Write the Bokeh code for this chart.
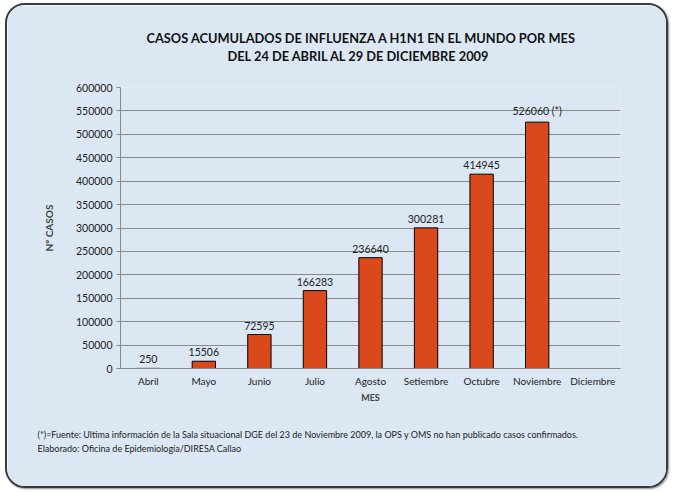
from bokeh.plotting import figure
from bokeh.models import (ColumnDataSource, Range1d, LabelSet, Title,
                          SingleIntervalTicker, NumeralTickFormatter)
from bokeh.core.properties import value
from bokeh.embed import file_html
from bokeh.resources import INLINE

# ---- data ----
months = ["Abril", "Mayo", "Junio", "Julio", "Agosto", "Setiembre", "Octubre", "Noviembre", "Diciembre"]
bar_months = ["Abril", "Mayo", "Junio", "Julio", "Agosto", "Setiembre", "Octubre", "Noviembre"]
cases = [250, 15506, 72595, 166283, 236640, 300281, 414945, 526060]
label_suffix = ["", "", "", "", "", "", "", " (*)"]

title_line1 = "CASOS ACUMULADOS DE INFLUENZA A H1N1 EN EL MUNDO  POR MES"
title_line2 = "DEL 24 DE ABRIL AL 29 DE DICIEMBRE 2009"
footnotes = ["(*)=Fuente: Ultima información de la Sala situacional DGE del 23 de Noviembre 2009, la OPS y OMS no han publicado casos confirmados.",
             "Elaborado: Oficina de Epidemiología/DIRESA Callao"]

FONT = "Lato"
BG = "#dbe7f3"
BAR = "#d9491b"
GRID = "#8a8a8a"

src = ColumnDataSource(dict(m=bar_months, v=cases,
                            t=[f"{v}{s}" for v, s in zip(cases, label_suffix)]))

p = figure(x_range=months, y_range=Range1d(0, 600000), width=659, height=481,
           output_backend="svg", toolbar_location=None,
           min_border_left=113, min_border_right=50, min_border_top=82, min_border_bottom=122)
p.styles = {"border": "2px solid #3a3a3a", "border-radius": "20px", "overflow": "hidden",
            "box-sizing": "content-box", "margin": "3px 0 0 5px",
            "box-shadow": "1px 1px 2px rgba(0,0,0,0.45)"}
p.border_fill_color = BG
p.background_fill_color = BG
p.outline_line_color = None

# title: p.title is outermost (line 1); a blank spacer sits nearest the frame, line 2 between
p.title.text = title_line1
p.title.align = "left"
p.title.offset = 26
p.title.standoff = 0
p.title.text_font = FONT
p.title.text_font_style = "bold"
p.title.text_font_size = "12.8px"
p.title.text_color = "#111111"
p.add_layout(Title(text=" ", standoff=10, text_font=FONT, text_font_size="10px"), "above")
p.add_layout(Title(text=title_line2, align="left", offset=107, standoff=0,
                   text_font=FONT, text_font_style="bold", text_font_size="12.8px",
                   text_color="#111111"), "above")

p.vbar(x="m", top="v", width=0.42, source=src, fill_color=BAR, line_color="black", line_width=1)

p.add_layout(LabelSet(x="m", y="v", text="t", source=src, text_align="center",
                      y_offset=5, text_font=value(FONT), text_font_size="10.5px",
                      text_color="#222222"))

# axes
p.yaxis.ticker = SingleIntervalTicker(interval=50000)
p.yaxis.formatter = NumeralTickFormatter(format="0")
p.yaxis.axis_label = "Nº CASOS"
p.yaxis.axis_label_text_font = FONT
p.yaxis.axis_label_text_font_style = "bold"
p.yaxis.axis_label_text_font_size = "10px"
p.yaxis.axis_label_standoff = 18
p.yaxis.major_label_text_font = FONT
p.yaxis.major_label_text_font_size = "10.5px"
p.yaxis.major_label_text_color = "#222222"
p.yaxis.major_label_standoff = 4
p.yaxis.major_tick_out = 4
p.yaxis.major_tick_in = 0
p.yaxis.minor_tick_line_color = None
p.yaxis.axis_line_color = GRID
p.yaxis.major_tick_line_color = GRID

p.xaxis.axis_label = "MES"
p.xaxis.axis_label_text_font = FONT
p.xaxis.axis_label_text_font_style = "bold"
p.xaxis.axis_label_text_font_size = "9px"
p.xaxis.axis_label_standoff = 2
p.xaxis.major_label_text_font = FONT
p.xaxis.major_label_text_font_size = "10px"
p.xaxis.major_label_text_color = "#222222"
p.xaxis.major_label_standoff = 0
p.xaxis.major_tick_line_color = None
p.xaxis.axis_line_color = GRID

p.xgrid.grid_line_color = None
p.ygrid.grid_line_color = GRID
p.ygrid.grid_line_width = 1

# footnotes below the x axis
p.add_layout(Title(text="\n".join(footnotes), align="left", offset=-83, standoff=44,
                   text_font=FONT, text_font_size="9px", text_font_style="normal",
                   text_line_height=1.3, text_color="#222222"), "below")

open("out.html", "w").write(file_html(p, INLINE))
